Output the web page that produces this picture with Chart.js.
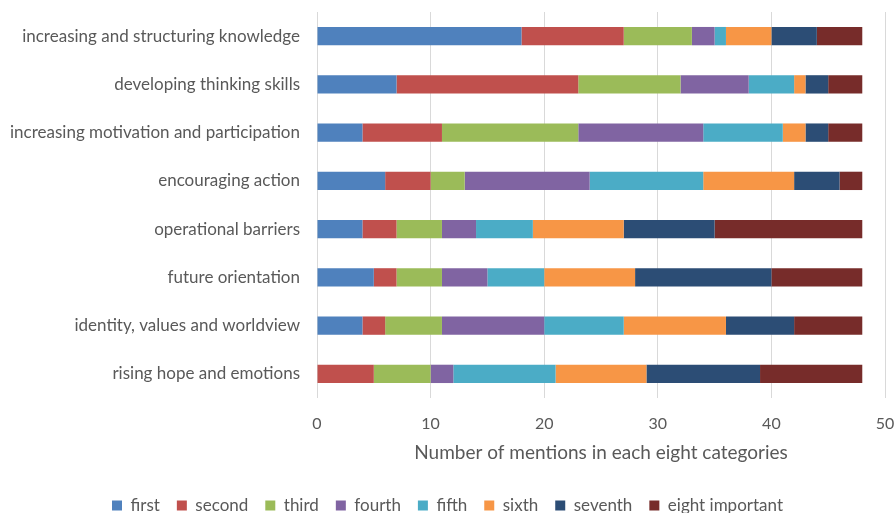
<!DOCTYPE html>
<html>
<head>
<meta charset="utf-8">
<script src="https://cdn.jsdelivr.net/npm/chart.js@4/dist/chart.umd.min.js"></script>
<style>
  html, body { margin: 0; padding: 0; background: #fff; }
  #wrap { width: 895px; height: 513px; }
</style>
</head>
<body>
<div id="wrap"><canvas id="mentionsChart"></canvas></div>
<script>
const categories = [
    'increasing and structuring knowledge',
    'developing thinking skills',
    'increasing motivation and participation',
    'encouraging action',
    'operational barriers',
    'future orientation',
    'identity, values and worldview',
    'rising hope and emotions'
];
const seriesNames = ['first', 'second', 'third', 'fourth', 'fifth', 'sixth', 'seventh', 'eight important'];
const first   = [18, 7, 4, 6, 4, 5, 4, 0];
const second  = [9, 16, 7, 4, 3, 2, 2, 5];
const third   = [6, 9, 12, 3, 4, 4, 5, 5];
const fourth  = [2, 6, 11, 11, 3, 4, 9, 2];
const fifth   = [1, 4, 7, 10, 5, 5, 7, 9];
const sixth   = [4, 1, 2, 8, 8, 8, 9, 8];
const seventh = [4, 2, 2, 4, 8, 12, 6, 10];
const eighth  = [4, 3, 3, 2, 13, 8, 6, 9];
const xTicks = [0, 10, 20, 30, 40, 50];

const seriesValues = [first, second, third, fourth, fifth, sixth, seventh, eighth];
const colors = ['#4F81BD', '#C0504D', '#9BBB59', '#8064A2', '#4BACC6', '#F79646', '#2C4D75', '#772C2A'];
const textColor = '#595959';
const fontFamily = 'Lato, "Open Sans", sans-serif';

var mentionsChart;
document.addEventListener('DOMContentLoaded', () => {
    const ctx = document.getElementById('mentionsChart').getContext('2d');
    mentionsChart = new Chart(ctx, {
        type: 'bar',
        data: {
            labels: categories,
            datasets: seriesNames.map((name, i) => ({
                label: name,
                data: seriesValues[i],
                backgroundColor: colors[i],
                borderWidth: 0,
                categoryPercentage: 1,
                barPercentage: 0.38
            }))
        },
        options: {
            indexAxis: 'y',
            responsive: true,
            maintainAspectRatio: false,
            animation: false,
            layout: { padding: { top: 12, right: 0, left: 0, bottom: -11 } },
            scales: {
                x: {
                    stacked: true,
                    min: 0,
                    max: 50,
                    afterBuildTicks: (scale) => { scale.ticks = xTicks.map(v => ({ value: v })); },
                    grid: { color: '#d9d9d9', lineWidth: 1, drawTicks: false },
                    border: { display: false },
                    ticks: { color: textColor, padding: 16, font: { family: fontFamily, size: 16 } },
                    title: {
                        display: true,
                        text: 'Number of mentions in each eight categories',
                        color: textColor,
                        padding: { top: 1, bottom: 16 },
                        font: { family: fontFamily, size: 19 }
                    },
                    afterFit: (scale) => {
                        scale.height = 82;
                        scale.paddingLeft = 0;
                        scale.paddingRight = 10;
                    }
                },
                y: {
                    stacked: true,
                    grid: { display: false },
                    border: { display: false },
                    ticks: { color: textColor, padding: 9, font: { family: fontFamily, size: 17 } },
                    afterFit: (scale) => {
                        scale.width = 317;
                        scale.paddingTop = 0;
                        scale.paddingBottom = 0;
                    }
                }
            },
            plugins: {
                legend: {
                    display: true,
                    position: 'bottom',
                    labels: {
                        color: textColor,
                        boxWidth: 10,
                        boxHeight: 10,
                        padding: 17,
                        font: { family: fontFamily, size: 17 }
                    }
                },
                tooltip: { enabled: false }
            }
        }
    });
});
</script>
</body>
</html>
